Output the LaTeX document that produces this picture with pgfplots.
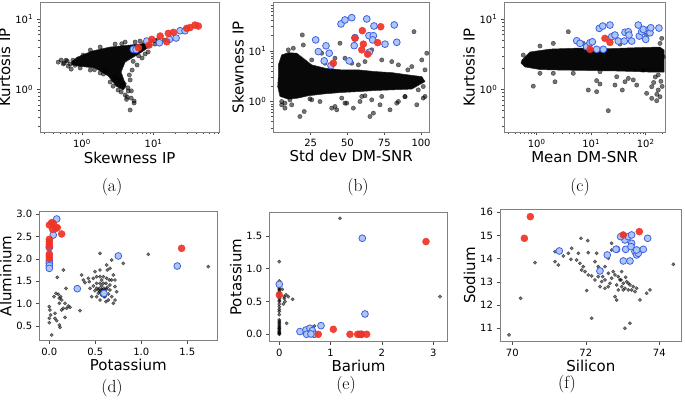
\documentclass[border=0pt]{standalone}
\usepackage{fontspec}
\setsansfont{DejaVu Sans}
\usepackage{pgfplots}
\pgfplotsset{compat=1.18}

\definecolor{bluefill}{RGB}{172,198,245}
\definecolor{blueedge}{RGB}{62,96,226}
\definecolor{redc}{RGB}{238,52,38}
\definecolor{framec}{RGB}{128,128,128}

\pgfplotsset{
  panel/.style={
    scale only axis,
    axis line style={framec, line width=0.8pt},
    tick style={black!70, line width=0.6pt},
    tick align=outside,
    major tick length=3.5pt,
    minor tick length=2pt,
    xtick pos=bottom, ytick pos=left,
    tick label style={font=\fontsize{10}{12}\selectfont\sffamily},
    label style={font=\fontsize{15}{18}\selectfont\sffamily},
    xlabel shift=-3pt, ylabel shift=-2pt,
    /pgf/number format/assume math mode=true,
  },
  blk/.style={only marks, mark=*, mark size=#1, opacity=0.55,
    mark options={fill=black, draw=none}},
  blk/.default=2.2pt,
  blob/.style={fill=black, draw=black!85, line width=0.5pt, fill opacity=0.97},
  blu/.style={only marks, mark=*, mark size=3.4pt,
    mark options={fill=bluefill, draw=blueedge, line width=0.8pt}},
  rd/.style={only marks, mark=*, mark size=3.5pt,
    mark options={fill=redc, draw=redc, fill opacity=0.92}},
}

\begin{document}
\begin{tikzpicture}
\useasboundingbox (0,0) rectangle (685pt,404pt);

% ---------------- (a)
\begin{axis}[panel, at={(40pt,272pt)}, anchor=south west,
  width=179.3pt, height=129.3pt,
  xmode=log, ymode=log,
  xmin=0.26, xmax=83, ymin=0.247, ymax=17.1,
  xtick={1,10}, xticklabels={10\textsuperscript{0},10\textsuperscript{1}},
  ytick={1,10}, yticklabels={10\textsuperscript{0},10\textsuperscript{1}},
  minor xtick={0.3,0.4,0.5,0.6,0.7,0.8,0.9,2,3,4,5,6,7,8,9,20,30,40,50,60,70,80},
  minor ytick={0.3,0.4,0.5,0.6,0.7,0.8,0.9,2,3,4,5,6,7,8,9},
  xlabel={Skewness IP}, ylabel={Kurtosis IP}]
\addplot[blob] coordinates {
  (0.72,2.42) (0.85,2.85) (1.39,3.51) (2.48,4.00) (4.72,4.27) (8.41,4.56)
  (9.56,4.27) (6.50,3.28) (4.02,2.44) (3.53,1.76) (4.15,1.11) (3.77,0.977)
  (3.01,1.11) (2.33,1.55) (1.53,2.01) (0.888,2.14) (0.72,2.25)} -- cycle;
\addplot[blk] coordinates {
  (0.467,2.44) (0.514,2.61) (0.566,2.37) (0.624,2.53) (0.687,2.29) (0.709,1.94)
  (0.781,2.44) (0.644,2.14) (3.53,0.916) (4.02,0.830) (4.28,0.777) (4.87,0.751)
  (5.36,0.682) (5.36,0.638) (4.72,0.508) (3.21,0.977) (4.43,0.946) (5.03,1.88)
  (5.90,2.22) (6.93,2.79) (7.64,3.18) (8.41,3.40) (4.72,1.36) (2.48,1.27)
  (2.73,1.11) (1.31,3.62) (1.80,4.00) (2.91,4.41) (4.02,4.71) (5.54,4.71)
  (6.50,4.86) (10.5,4.41) (12.4,4.71) (14.1,5.02) (10.5,4.94) (1.04,3.07)
  (0.946,2.01) (1.31,1.88) (1.80,1.71) (2.11,1.88) (0.55,2.30) (0.60,2.60)
  (0.75,2.60) (0.80,2.20) (3.90,1.20) (4.40,1.05) (3.30,1.35) (2.90,1.45)
  (4.60,1.60) (5.20,2.50) (6.20,3.00) (3.60,4.45) (7.50,4.60) (9.20,4.90)
  (11.5,5.10) (4.90,0.95) (4.20,0.72) (2.00,1.65) (1.50,1.90)};
\addplot[blu] coordinates {
  (5.24,3.71) (5.72,3.68) (8.07,4.86) (12.1,4.60) (16.7,5.14) (20.7,5.37)
  (23.5,6.82) (27.6,6.82)};
\addplot[rd] coordinates {
  (6.16,3.91) (8.68,4.27) (9.47,5.14) (12.4,5.73) (15.3,4.75) (16.1,6.26)
  (19.0,6.47) (29.1,7.38) (32.4,7.57) (38.0,8.22) (42.3,7.95)};
\end{axis}

% ---------------- (b)
\begin{axis}[panel, at={(273.3pt,272pt)}, anchor=south west,
  width=155.7pt, height=129.3pt,
  ymode=log,
  xmin=-0.4, xmax=105.4, ymin=0.25, ymax=89.7,
  xtick={25,50,75,100},
  ytick={1,10}, yticklabels={10\textsuperscript{0},10\textsuperscript{1}},
  minor ytick={0.3,0.4,0.5,0.6,0.7,0.8,0.9,2,3,4,5,6,7,8,9,20,30,40,50,60,70,80},
  xlabel={Std dev DM-SNR}, ylabel={Skewness IP}]
\addplot[blob] coordinates {
  (3.0,5.30) (5.3,8.34) (9.8,9.25) (15.5,9.01) (20.0,7.18) (25.7,5.30)
  (34.7,4.56) (46.1,4.22) (57.4,4.22) (68.7,3.91) (80.1,3.73) (91.3,3.36)
  (100.5,3.11) (102.7,2.48) (93.7,1.76) (80.1,1.70) (68.7,1.65) (57.4,1.57)
  (46.1,1.51) (34.7,1.42) (23.4,1.30) (16.6,1.17) (9.8,1.11) (4.1,1.26)
  (2.6,1.98) (3.0,3.11)} -- cycle;
\addplot[blk] coordinates {
  (5.3,1.00) (7.5,0.741) (17.7,0.506) (20.6,0.635) (39.3,0.741) (42.7,0.686)
  (48.3,0.929) (65.3,0.506) (67.6,0.590) (72.1,0.861) (78.9,0.686) (97.1,0.861)
  (101.5,1.17) (54.0,0.741) (58.5,1.00) (31.3,1.00) (83.5,0.929) (24.5,1.13)
  (10.9,1.08) (89.1,1.24) (61.9,1.30)
  (19.3,20.7) (20.0,13.1) (32.5,9.01) (34.7,5.72) (41.5,7.18) (44.9,14.2)
  (48.3,7.18) (52.9,5.72) (61.9,6.15) (73.3,6.64) (80.1,6.15) (93.7,4.90)
  (95.2,24.0) (100.5,6.64) (103.9,9.01) (102.7,4.22) (25.7,6.64) (9.8,10.5)
  (13.2,11.3) (57.4,5.30) (84.6,5.30) (91.0,4.22) (29.1,16.5) (66.5,10.5)
  (101.5,1.98) (98.1,1.70) (89.1,1.26) (84.6,1.00) (73.3,1.26) (59.7,1.26)
  (46.1,1.17) (25.7,1.08) (7.5,0.929) (12.1,0.861) (41.5,0.797) (49.5,0.929)
  (66.5,1.08) (102.7,1.26) (5.3,0.861)};
\addplot[blu] coordinates {
  (28.4,16.5) (30.2,9.69) (35.4,12.6) (37.6,9.01) (34.2,6.35) (38.8,5.13)
  (45.6,34.1) (48.3,40.9) (52.9,45.4) (51.2,6.35) (55.1,18.3) (54.6,12.7)
  (63.1,42.8) (68.0,31.1) (64.6,20.0) (67.6,20.0) (64.8,9.43) (67.1,16.5)
  (75.5,13.6) (81.8,32.6) (83.5,14.8)};
\addplot[rd] coordinates {
  (40.4,5.72) (55.1,17.8) (60.1,25.1) (60.8,13.6) (59.7,10.5) (63.7,8.61)
  (70.5,14.6) (72.6,30.1)};
\end{axis}

% ---------------- (c)
\begin{axis}[panel, at={(504.3pt,272pt)}, anchor=south west,
  width=160.7pt, height=129.3pt,
  xmode=log, ymode=log,
  xmin=0.255, xmax=226, ymin=0.247, ymax=17.1,
  xtick={1,10,100}, xticklabels={10\textsuperscript{0},10\textsuperscript{1},10\textsuperscript{2}},
  ytick={1,10}, yticklabels={10\textsuperscript{0},10\textsuperscript{1}},
  minor xtick={0.3,0.4,0.5,0.6,0.7,0.8,0.9,2,3,4,5,6,7,8,9,20,30,40,50,60,70,80,90,200},
  minor ytick={0.3,0.4,0.5,0.6,0.7,0.8,0.9,2,3,4,5,6,7,8,9},
  xlabel={Mean DM-SNR}, ylabel={Kurtosis IP}]
\addplot[blob] coordinates {
  (0.537,2.61) (0.754,3.40) (1.75,3.74) (6.23,3.87) (22.1,3.80) (78.6,3.93)
  (183,4.00) (217,3.62) (217,1.76) (120,1.76) (33.8,1.82) (9.51,1.85)
  (2.68,1.88) (1.15,1.91) (0.610,2.08) (0.515,2.37)} -- cycle;
\addplot[blk] coordinates {
  (0.867,1.11) (2.17,1.28) (8.85,0.977) (12.6,1.33) (14.5,1.19) (20.6,0.496)
  (37.2,0.977) (41.7,1.28) (68.4,1.15) (104,0.877) (129,0.745) (159,0.689)
  (183,0.785) (170,0.977) (129,1.09) (59.2,1.36) (29.4,1.51) (4.69,1.69)
  (2.02,1.69) (1.15,1.69) (3.80,6.60) (2.02,4.51) (7.16,4.51) (183,4.51)
  (210,2.91) (90.4,1.88) (14.5,1.78) (0.568,3.07) (12.6,0.925) (197,5.31)
  (48.0,1.43) (27.3,1.15) (104,5.92) (9.51,4.27) (33.8,4.41) (1.15,4.13)
  (150,1.5) (190,1.3) (170,1.6) (200,1.1) (140,1.25) (160,0.85)};
\addplot[blu] coordinates {
  (5.42,4.91) (6.23,4.51) (8.26,4.04) (9.51,4.60) (10.5,4.75) (12.6,3.71)
  (16.7,3.71) (14.1,7.38) (16.3,7.95) (22.1,8.22) (23.8,5.60) (27.3,5.92)
  (31.4,4.86) (40.5,4.86) (41.7,6.47) (48.0,6.60) (49.4,5.92) (55.3,4.86)
  (73.1,8.22) (76.3,5.73) (84.5,6.60) (90.4,7.13) (100,5.14) (116,7.13)
  (120,6.38) (124,7.52) (175,7.45)};
\addplot[rd] coordinates {
  (9.51,3.71) (17.9,5.31) (22.1,4.66)};
\end{axis}

% ---------------- (d)
\begin{axis}[panel, at={(39.3pt,63.3pt)}, anchor=south west,
  width=178pt, height=129.7pt,
  xmin=-0.109, xmax=1.826, ymin=0.172, ymax=3.067,
  xtick={0,0.5,1,1.5}, ytick={0.5,1,1.5,2,2.5,3},
  xticklabel style={/pgf/number format/.cd, fixed, fixed zerofill, precision=1},
  yticklabel style={/pgf/number format/.cd, fixed, fixed zerofill, precision=1},
  xlabel={Potassium}, ylabel={Aluminium}]
\addplot[blk=1.7pt] coordinates {
  (0,0.932) (0.007,0.857) (0.014,0.746) (0,0.671) (0,0.574) (0.025,0.299)
  (0.051,1.155) (0.072,1.229) (0.087,1.586) (0.098,1.207) (0.109,1.118)
  (0.123,1.155) (0.109,1.006) (0.134,1.080) (0.152,1.750) (0.134,0.857)
  (0.152,0.894) (0.170,1.006) (0.170,0.693) (0.062,0.671) (0.080,0.619)
  (0.109,0.522) (0.116,0.470) (0.188,0.894) (0.225,0.917) (0.207,0.946)
  (0.181,1.341) (0.062,0.783) (0.351,1.638) (0.370,1.527) (0.388,1.467)
  (0.435,1.490) (0.442,1.341) (0.478,1.564) (0.496,1.713) (0.514,1.452)
  (0.533,1.304) (0.551,2.122) (0.569,1.192) (0.587,1.452) (0.551,1.601)
  (0.623,1.862) (0.630,1.750) (0.659,1.787) (0.696,1.638) (0.678,1.527)
  (0.714,1.378) (0.714,1.080) (0.732,1.266) (0.659,1.304) (0.605,1.155)
  (0.641,1.080) (0.551,1.080) (0.616,1.043) (0.696,1.006) (0.514,1.155)
  (0.587,1.601) (0.678,1.973) (0.804,1.899) (1.076,2.100) (1.728,1.824)
  (0.333,0.842) (0.424,1.564) (0.551,1.452) (0.594,1.341) (0.630,1.363)
  (0.652,1.527) (0.580,1.304) (0.543,1.341) (0.616,1.452) (0.659,1.415)
  (0.605,1.266) (0.514,1.341) (0.569,1.393) (0.533,1.229) (0.641,1.214)
  (0.496,1.289) (0.551,1.266) (0.594,1.155) (0.678,1.155) (0.478,1.393)
  (0.623,1.564) (0.714,1.527) (0.569,1.527) (0.460,1.155) (0.551,1.750)
  (0.514,1.601) (0.58,1.28) (0.57,1.31) (0.60,1.30) (0.56,1.25) (0.62,1.32)};
\addplot[blu] coordinates {
  (0.080,2.888) (0.043,2.531) (0,2.249) (0,1.951) (0,1.899) (0,1.847)
  (0,1.787) (0.750,2.063) (1.391,1.839) (0.304,1.333) (0.594,1.229)};
\addplot[rd] coordinates {
  (0,2.754) (0.025,2.807) (0.043,2.792) (0.072,2.680) (0.087,2.695)
  (0.036,2.658) (0.134,2.554) (0,2.435) (0,2.382) (0,2.323) (0,2.271)
  (0,2.107) (0,2.063) (0,2.010) (1.438,2.234)};
\end{axis}

% ---------------- (e)
\begin{axis}[panel, at={(269.3pt,62.3pt)}, anchor=south west,
  width=178.4pt, height=129pt,
  xmin=-0.195, xmax=3.283, ymin=-0.113, ymax=1.856,
  xtick={0,1,2,3}, ytick={0,0.5,1,1.5},
  yticklabel style={/pgf/number format/.cd, fixed, fixed zerofill, precision=1},
  xlabel={Barium}, ylabel={Potassium}]
\addplot[blk=1.7pt] coordinates {
  (0,0) (0,0.02) (0,0.04) (0,0.06) (0,0.08) (0,0.10) (0,0.12) (0,0.14)
  (0,0.16) (0,0.18) (0,0.20) (0,0.22) (0,0.30) (0,0.35) (0,0.38) (0,0.42)
  (0,0.46) (0,0.50) (0,0.52) (0,0.55) (0,0.58) (0,0.62) (0,0.64) (0,0.66)
  (0,0.68) (0,0.70) (0,0.72) (0,0.814) (0,1.109) (0,0.01) (0,0.03) (0,0.09)
  (0.058,0.687) (0.098,0.575) (0.130,0.601) (0.111,0.499) (0.098,0.545)
  (0.260,0.534) (0.144,0.168) (0.683,0.127) (1.183,1.771) (3.132,0.575)
  (0.078,0.463) (0.176,0.575)};
\addplot[blu] coordinates {
  (0,0.763) (0.403,0.041) (0.520,0.066) (0.533,0) (0.598,0.092) (0.644,0.056)
  (0.683,0) (0.813,0.132) (1.618,1.466) (1.670,0.310) (1.606,0) (0.617,0.005)};
\addplot[rd] coordinates {
  (0,0.601) (0.760,0) (1.053,0.076) (1.378,0) (1.527,0) (1.560,0) (1.592,0)
  (1.703,0) (2.860,1.415)};
\end{axis}

% ---------------- (f)
\begin{axis}[panel, at={(500pt,62.3pt)}, anchor=south west,
  width=181.7pt, height=132.4pt,
  xmin=69.665, xmax=74.61, ymin=10.42, ymax=16.13,
  xtick={70,72,74}, ytick={11,12,13,14,15,16},
  xlabel={Silicon}, ylabel={Sodium}]
\addplot[blk=1.7pt] coordinates {
  (69.909,10.713) (70.227,12.293) (70.617,13.830) (71.161,13.874) (71.252,13.730)
  (71.388,14.118) (71.524,14.233) (71.596,13.974) (71.751,13.945) (71.796,14.233)
  (71.841,13.802) (71.887,13.514) (71.932,13.658) (71.868,14.879) (72.050,14.779)
  (72.068,14.262) (72.023,12.624) (72.159,11.431) (72.249,13.874) (72.294,14.233)
  (72.340,13.658) (72.431,13.514) (72.458,13.227) (72.522,13.083) (72.612,13.371)
  (72.658,12.940) (72.703,13.155) (72.748,13.443) (72.794,13.299) (72.839,12.868)
  (72.884,13.227) (72.930,13.083) (72.975,12.796) (73.020,12.940) (73.066,12.724)
  (73.111,13.011) (73.156,12.652) (73.202,12.868) (73.247,12.652) (73.293,12.796)
  (73.338,12.580) (72.522,12.724) (72.431,13.011) (72.249,13.083) (72.159,13.256)
  (72.068,13.299) (71.977,13.443) (72.794,12.365) (72.839,12.221) (73.066,11.000)
  (73.202,11.216) (73.474,12.221) (73.655,12.509) (73.746,12.652) (74.381,13.759)
  (72.703,14.376) (72.703,14.664) (72.612,14.017) (72.385,12.796) (71.615,14.448)
  (71.161,14.305) (72.957,13.083) (73.084,13.198) (72.975,13.443) (72.522,13.658)
  (72.340,13.227) (73.383,12.724) (73.156,12.940) (72.612,12.796) (73.020,12.652)
  (72.884,12.652)};
\addplot[blu] coordinates {
  (71.279,14.333) (72.385,13.471) (72.585,14.161) (72.839,14.405) (73.002,14.980)
  (73.066,14.807) (73.084,14.405) (73.020,13.902) (73.156,14.951) (73.202,13.902)
  (73.247,14.664) (73.247,15.023) (73.229,14.520) (73.338,14.305) (73.383,14.161)
  (73.429,14.233) (73.383,14.376) (73.565,14.405) (73.683,14.879) (72.948,14.951)
  (72.821,14.405)};
\addplot[rd] coordinates {
  (70.327,14.879) (70.490,15.813) (73.020,15.023) (73.456,15.167)};
\end{axis}

% sub-figure labels
\begin{scope}[every node/.style={font=\fontsize{17.5}{20}\selectfont, inner sep=0pt}]
\node at (112pt,217pt) {(a)};
\node at (358pt,217pt) {(b)};
\node at (580pt,217pt) {(c)};
\node at (112pt,16pt) {(d)};
\node at (346pt,19pt) {(e)};
\node at (567pt,20pt) {(f)};
\end{scope}
\end{tikzpicture}
\end{document}
